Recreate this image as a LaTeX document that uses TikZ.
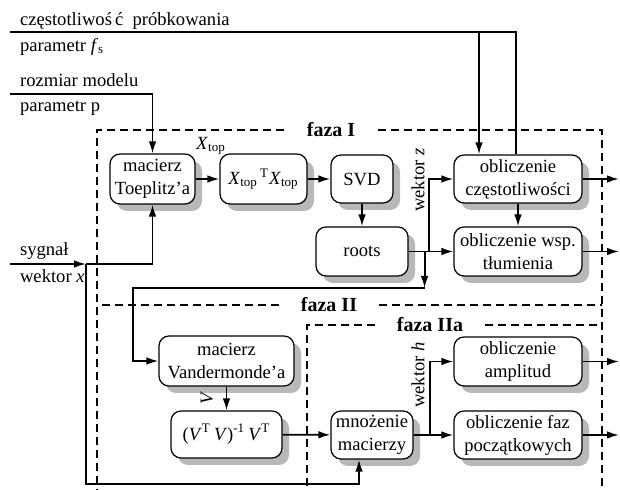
\documentclass[tikz,border=0pt]{standalone}
\usepackage{fontspec}
\setmainfont{Liberation Serif}
\usetikzlibrary{arrows.meta}
\usetikzlibrary{shadows}

\tikzset{
  blok/.style={draw, line width=0.6pt, rounded corners=5pt, fill=white,
    align=center, inner sep=1pt, minimum height=24.5pt,
    drop shadow={shadow xshift=3.5pt, shadow yshift=-3.5pt, fill=black!28, opacity=1}},
  faza/.style={line width=1pt, dash pattern=on 4pt off 2.5pt},
  lin/.style={line width=0.9pt},
  strz/.style={lin, ->},
  etyk/.style={font=\bfseries, inner xsep=11pt},
}

\begin{document}
\begin{tikzpicture}[x=0.5pt, y=-0.5pt, >={Latex[length=6pt,width=3.8pt]},
    font=\fontsize{9.3}{11.5}\selectfont]
  \useasboundingbox (0,0) rectangle (620,490);

  % ramki faz
  \node[etyk] (fI) at (331,130) {faza I};
  \node[etyk] (fII) at (329,305) {faza II};
  \node[etyk] (fIIa) at (430,325) {faza IIa};
  \draw[faza] (fI.west) -- (97,130) -- (97,490);
  \draw[faza] (fI.east) -- (602,130) -- (602,490);
  \draw[faza] (fII.west) -- (97,305);
  \draw[faza] (fII.east) -- (602,305);
  \draw[faza] (fIIa.west) -- (307,325) -- (307,490);
  \draw[faza] (fIIa.east) -- (602,325);

  % faza I
  \node[blok, minimum width=42.5pt, minimum height=25pt] (toep) at (152.5,179) {macierz\\Toeplitz’a};
  \node[blok, minimum width=43.5pt, minimum height=25pt] (xtx) at (263.5,179)
    {\textit{X}\textsubscript{top}\textsuperscript{\,T}\textit{X}\textsubscript{top}};
  \node[blok, minimum width=31pt, minimum height=24pt] (svd) at (362,179) {SVD};
  \node[blok, minimum width=46pt] (roots) at (362,251.5) {roots};
  \node[blok, minimum width=64pt, minimum height=24pt] (czest) at (518,179) {obliczenie\\częstotliwości};
  \node[blok, minimum width=64pt] (tlum) at (518,251.5) {obliczenie wsp.\\tłumienia};

  % faza II i IIa
  \node[blok, minimum width=67.5pt, minimum height=25pt] (vand) at (226.5,361) {macierz\\Vandermonde’a};
  \node[blok, minimum width=55.5pt, minimum height=23.5pt] (pinv) at (226.5,434.5)
    {(\textit{V}\textsuperscript{T}\,\textit{V})\textsuperscript{-1}\,\textit{V}\textsuperscript{T}};
  \node[blok, minimum width=41pt, minimum height=24pt] (mnoz) at (372,435) {mnożenie\\macierzy};
  \node[blok, minimum width=64pt] (ampl) at (518,361.5) {obliczenie\\amplitud};
  \node[blok, minimum width=64pt, minimum height=24pt] (faz) at (518,435) {obliczenie faz\\początkowych};

  % wejscia
  \node[anchor=base west] (tfs) at (13,26) {częstotliwoś\kern1.5pt ć\ \ próbkowania};
  \node[anchor=base west] (pfs) at (13,52) {parametr \textit{f}\textsubscript{s}};
  \node[anchor=base west] (tmod) at (13,87) {rozmiar modelu};
  \node[anchor=base west] (pmod) at (13,112) {parametr p};
  \node[anchor=base west] (tsyg) at (13,256) {sygnał};
  \node[anchor=base west] (psyg) at (13,283) {wektor \textit{x}};

  \coordinate (fs) at (10,32);
  \coordinate (mod) at (10,94);
  \coordinate (syg) at (10,264);
  \coordinate (sj) at (86,264);
  \coordinate (sb) at (86,484);
  \coordinate (vl) at (133,288);
  \coordinate (out) at (619,0);
  \coordinate (czin) at ([xshift=-19.5pt]czest.north);
  \coordinate (czfs) at ([xshift=-1pt]czest.north);
  \coordinate (rz) at ([xshift=10pt]roots.east);
  \coordinate (rd) at ([xshift=8pt]roots.east);
  \coordinate (mh) at ([xshift=8pt]mnoz.east);
  \coordinate (mnin) at ([xshift=-6.5pt]mnoz.south);

  % etykiety
  \node (lxtop) at (211,146) {\textit{X}\textsubscript{top}};
  \node[rotate=90] (lz) at (418,180) {wektor \textit{z}};
  \node[rotate=90] (lh) at (418,375) {wektor \textit{h}};
  \node[rotate=90] (lv) at (207,398) {\textit{V}};

  % polaczenia
  \draw[lin] (fs) -| (czfs);
  \draw[strz] (fs -| czin) -- (czin);
  \draw[strz] (mod) -| (toep);
  \draw[strz] (syg) -- (sj);
  \draw[strz] (sj) -| (toep);
  \draw[strz] (sj) -- (sb) -| (mnin);
  \draw[strz] (toep) -- (xtx);
  \draw[strz] (xtx) -- (svd);
  \draw[strz] (svd) -- (roots);
  \draw[strz] (roots) -- (tlum);
  \draw[strz] (rz) |- (czest);
  \draw[strz] (rd) -- (rd |- vl);
  \draw[strz] (rd |- vl) -- (vl) |- (vand);
  \draw[strz] (czest) -- (tlum);
  \draw[strz] (vand) -- (pinv);
  \draw[strz] (pinv) -- (mnoz);
  \draw[strz] (mnoz) -- (faz);
  \draw[strz] (mh) |- (ampl);

  % wyjscia
  \draw[strz] (czest) -- (czest -| out);
  \draw[strz] (tlum) -- (tlum -| out);
  \draw[strz] (ampl) -- (ampl -| out);
  \draw[strz] (faz) -- (faz -| out);
\end{tikzpicture}
\end{document}
